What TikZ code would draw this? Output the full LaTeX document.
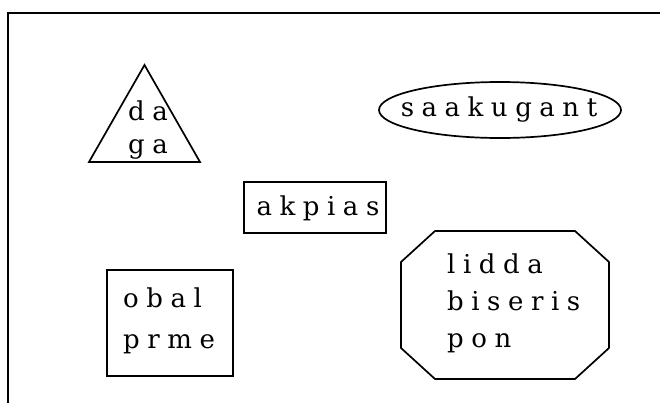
\documentclass[tikz,border=0pt]{standalone}
\usepackage{fontspec}
\usetikzlibrary{shapes.geometric}
\newfontfamily\lblfont[LetterSpace=29]{DejaVu Serif}
\tikzset{
  outline/.style={draw=black, line width=1.7pt},
  lbl/.style={inner sep=0pt, font={\lblfont\fontsize{26}{#1}\selectfont}},
  lbl/.default=37
}
\begin{document}
\begin{tikzpicture}[x=1pt,y=-1pt]
\useasboundingbox (0,0) rectangle (660,402);
% frame (only top and left visible)
\draw[line width=2pt] (8,420) -- (8,13) -- (680,13);
% triangle
\coordinate (tA) at (144.5,65);
\coordinate (tB) at (89,162);
\coordinate (tC) at (200,162);
\draw[outline, line join=miter] (tB) -- (tC) -- (tA) -- cycle;
\node[lbl=33, align=center] (daga) at (148,130) {da\\ga};
% ellipse
\node[outline, ellipse, minimum width=242pt, minimum height=56pt, inner sep=0pt] (ell) at (500,110) {};
\node[lbl] (saak) at (499,110) {saakugant};
% akpias box
\node[outline, rectangle, minimum width=142pt, minimum height=51pt, inner sep=0pt] (akbox) at (315,207.5) {};
\node[lbl] (akpias) at (318,208) {akpias};
% obal box
\node[outline, rectangle, minimum width=126pt, minimum height=106pt, inner sep=0pt] (obbox) at (170,323) {};
\node[lbl=41, align=left, anchor=west] (obal) at (123,321) {obal\\prme};
% octagon
\coordinate (o1) at (435,231);
\coordinate (o2) at (575,231);
\coordinate (o3) at (609,262);
\coordinate (o4) at (609,348);
\coordinate (o5) at (575,379);
\coordinate (o6) at (435,379);
\coordinate (o7) at (401,348);
\coordinate (o8) at (401,262);
\draw[outline, line join=miter] (o1) -- (o2) -- (o3) -- (o4) -- (o5) -- (o6) -- (o7) -- (o8) -- cycle;
\node[lbl, align=left, anchor=west] (lidda) at (447,303) {lidda\\biseris\\pon};
\end{tikzpicture}
\end{document}
